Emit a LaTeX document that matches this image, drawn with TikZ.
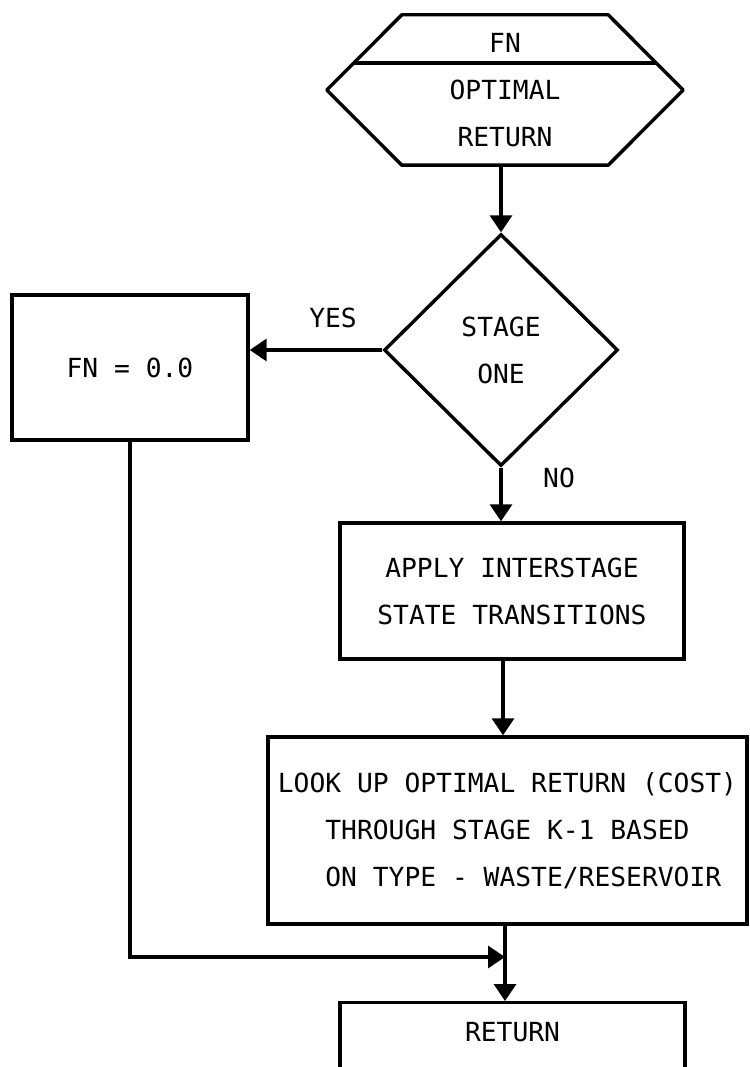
\documentclass[tikz,border=0pt]{standalone}
\usepackage{fontspec}
\newfontfamily\typefont{DejaVu Sans Mono}
\usetikzlibrary{shapes.geometric,arrows.meta,calc}

\tikzset{
  txt/.style={font=\typefont\fontsize{26.3pt}{47pt}\selectfont, align=center},
  stepbox/.style={txt, draw, line width=3.4pt, rectangle, inner sep=2pt},
  decision/.style={txt, draw, line width=3.4pt, diamond, aspect=1, inner sep=2pt},
  line/.style={line width=3.4pt},
  arr/.style={line width=3.4pt, -{Triangle[width=22pt,length=17pt]}},
  lbl/.style={font=\typefont\fontsize{26.3pt}{47pt}\selectfont}
}

\begin{document}
\begin{tikzpicture}[x=1pt,y=-1pt]
\useasboundingbox (0,0) rectangle (749,1067);
\clip (0,0) rectangle (749,1067);
\fill[white] (0,0) rectangle (749,1067);

% entry hexagon: function name over its description
\node[txt, minimum width=356pt, minimum height=150pt, inner sep=0pt] (hex) at (505,90)
  {FN\\OPTIMAL\\RETURN};
\draw[line, line join=round]
  ($(hex.north west)+(75,0)$) -- ($(hex.north east)+(-75,0)$) -- (hex.east)
  -- ($(hex.south east)+(-75,0)$) -- ($(hex.south west)+(75,0)$) -- (hex.west) -- cycle;
\draw[line] ($(hex.west)+(27,-27)$) -- ($(hex.east)+(-27,-27)$);

% decision and process boxes
\node[decision, minimum width=234pt, minimum height=232pt] (dia) at (501,350) {STAGE\\ONE};
\node[stepbox, minimum width=236pt, minimum height=145pt] (fn) at (130,367.5) {FN = 0.0};
\node[stepbox, minimum width=344pt, minimum height=136pt] (apply) at (512,591)
  {APPLY INTERSTAGE\\STATE TRANSITIONS};
\node[stepbox, minimum width=479pt, minimum height=187pt] (look) at (507.5,830.5)
  {LOOK UP OPTIMAL RETURN (COST)\\THROUGH STAGE K-1 BASED\\\hphantom{OO}ON TYPE - WASTE/RESERVOIR};
\node[stepbox, anchor=north, minimum width=345pt, text height=19pt, text depth=80pt,
  inner ysep=19.5pt] (ret) at (512.5,1001) {RETURN};

% branch labels
\node[lbl] (yes) at (333,318) {YES};
\node[lbl] (no) at (559,478) {NO};

% connectors
\coordinate (join) at (505,957);
\draw[arr] (hex.south -| dia.north) -- (dia.north);
\draw[arr] (dia.west) -- (dia.west -| fn.east);
\draw[arr] (dia.south) -- (dia.south |- apply.north);
\draw[arr] ($(apply.south -| dia.south)+(2,0)$) -- ($(dia.south |- look.north)+(2,0)$);
\draw[line] (look.south -| join) -- (join);
\draw[arr] (join) -- (join |- ret.north);
\draw[arr] (fn.south) |- (join);
\end{tikzpicture}
\end{document}
